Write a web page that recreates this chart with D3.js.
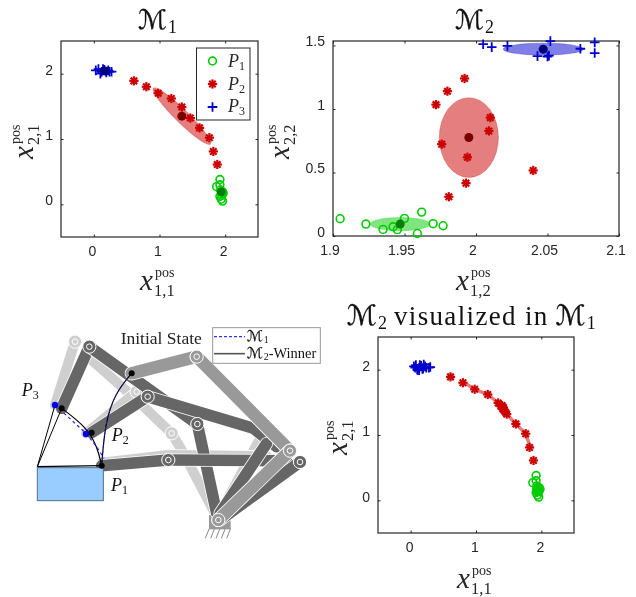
<!DOCTYPE html>
<html><head><meta charset="utf-8">
<script src="https://cdn.jsdelivr.net/npm/d3@7"></script>
<style>html,body{margin:0;padding:0;background:#fff}svg{display:block;filter:blur(.35px)}</style>
</head><body><svg id="c" width="636" height="597"></svg>
<script>
// ---- data: model M1, x1,1 vs x2,1
const m1P1x=[1.92,1.87,1.92,1.96,1.97,1.92,1.94,1.96,1.93,1.95];
const m1P1y=[0.38,0.27,0.30,0.19,0.17,0.12,0.08,0.05,0.22,0.14];
const m1P2x=[0.61,0.80,0.98,1.18,1.34,1.47,1.61,1.76,1.82,1.88];
const m1P2y=[1.89,1.80,1.70,1.62,1.49,1.32,1.17,1.02,0.81,0.61];
const m1P3x=[0.03,0.07,0.10,0.12,0.16,0.19,0.22,0.24,0.27,0.14];
const m1P3y=[2.05,2.07,2.00,2.03,2.06,2.02,2.05,2.03,2.03,2.07];
const m1Mean={P1:[1.94,0.19],P2:[1.34,1.35],P3:[0.17,2.04]};
// ---- data: model M2, x1,2 vs x2,2
const m2P1x=[1.905,1.923,1.935,1.942,1.945,1.950,1.959,1.962,1.970,1.977];
const m2P1y=[0.136,0.094,0.052,0.073,0.050,0.139,0.020,0.188,0.097,0.081];
const m2P2x=[1.992,1.980,1.972,2.010,2.009,1.976,1.994,1.993,1.981,2.040];
const m2P2y=[1.240,1.140,1.034,0.932,0.827,0.723,0.620,0.416,0.309,0.516];
const m2P3x=[2.005,2.011,2.022,2.043,2.052,2.050,2.051,2.073,2.083,2.083];
const m2P3y=[1.510,1.487,1.497,1.416,1.534,1.413,1.420,1.474,1.524,1.440];
const m2Mean={P1:[1.947,0.094],P2:[1.995,0.775],P3:[2.047,1.471]};
const m2Ell={P1:[0.021,0.052],P2:[0.0207,0.314],P3:[0.028,0.047]};
// ---- data: M2 samples visualized in M1
const m3P1x=[1.92,1.87,1.92,1.97,1.96,1.92,1.94,1.96,1.93,1.95,1.98,1.94,1.96,1.93];
const m3P1y=[0.38,0.27,0.30,0.19,0.16,0.12,0.08,0.05,0.22,0.14,0.17,0.19,0.13,0.17];
const m3P2x=[0.61,0.80,0.98,1.18,1.34,1.47,1.61,1.76,1.82,1.88,1.38,1.41,1.43,1.45,1.42,1.40];
const m3P2y=[1.89,1.80,1.70,1.62,1.49,1.32,1.17,1.02,0.81,0.61,1.44,1.40,1.38,1.35,1.42,1.45];
const m3P3x=[0.05,0.08,0.11,0.13,0.16,0.19,0.22,0.24,0.28,0.14,0.10,0.18,0.30,0.07,0.20,0.13];
const m3P3y=[2.05,2.07,2.00,2.03,2.06,2.02,2.05,2.03,2.03,2.07,2.00,2.01,2.04,2.03,2.08,1.99];
const m3BandX=[0.85,0.98,1.18,1.34,1.47,1.61,1.76,1.82];
const m3BandY=[1.78,1.70,1.62,1.49,1.32,1.17,1.02,0.85];
const m3Blob=[1.95,0.17];
const ticks1=[0,1,2];
const ticks2x=[1.9,1.95,2,2.05,2.1];
const ticks2y=[0,0.5,1,1.5];
const legendNames=["1","2","3"];
// ---- mechanism diagram geometry
const lightLinks=[[[225,95],[165,285]],[[275,150],[410,270],[515,370],[548,425],[645,610]],[[258,370],[410,245]],[[775,395],[660,610]],[[305,458],[505,435],[800,438]]];
const darkLinks=[[[268,110],[185,295]],[[268,110],[592,342]],[[592,342],[650,610]],[[275,368],[443,260]],[[443,260],[760,355],[830,410]],[[305,467],[505,450]],[[505,450],[860,452]],[[800,400],[660,610]],[[900,456],[660,630]]];
const midLinks=[[[395,190],[590,140]],[[590,140],[870,422]],[[870,422],[655,630]]];
const lightPins=[[225,95],[410,245],[515,370]];
const darkPins=[[268,110],[443,260],[592,342],[505,450],[900,456]];
const midPins=[[590,140],[870,422],[655,630]];
const curveA=[[305,467],[292,410],[258,350],[185,295]];
const curveB=[[305,467],[315,340],[345,250],[395,190]];
const dashA=[[165,285],[258,370],[290,410],[312,445]];
const anchors=[[112,470],[305,467],[165,285],[185,295]];
const blackDots=[[305,467],[275,368],[185,295],[395,190]];
const blueDots=[[165,285],[258,372]];
const hatchX=[628,644,660,676,692];

const GREEN="#00cc00",RED="#cc0000",BLUE="#0000cc",AX="#262626";
const SERIF="'Liberation Serif',serif",SANS="'Liberation Sans',sans-serif",MATH="'DejaVu Sans',serif";
const svg=d3.select("#c");

function star(g,x,y,c,s=4.6){ [0,45,90,135].forEach(a=>{
  g.append("line").attr("x1",-s).attr("x2",s).attr("y1",0).attr("y2",0)
   .attr("transform",`translate(${x},${y}) rotate(${a})`).attr("stroke",c).attr("stroke-width",2.2);});}
function plus(g,x,y,c,s=4.8){
  g.append("path").attr("d",`M${x-s},${y}H${x+s}M${x},${y-s}V${y+s}`).attr("stroke",c).attr("stroke-width",1.8).attr("fill","none");}
function ring(g,x,y,c,r=3.9){
  g.append("circle").attr("cx",x).attr("cy",y).attr("r",r).attr("fill","none").attr("stroke",c).attr("stroke-width",1.6);}

function varLabel(parent,x,y,sub,rot){
  const g=parent.append("g").attr("transform",`translate(${x},${y}) rotate(${rot||0})`);
  g.append("text").attr("x",-20).attr("y",0).attr("font-family",SERIF).attr("font-style","italic").attr("font-size",29).attr("fill",AX).text("x");
  g.append("text").attr("x",-5).attr("y",-13).attr("font-family",SERIF).attr("font-size",14).attr("fill",AX).text("pos");
  g.append("text").attr("x",-6).attr("y",6).attr("font-family",SERIF).attr("font-size",16.5).attr("fill",AX).text(sub);
}
function scr(parent,x,y,size,n){
  const t=parent.append("text").attr("x",x).attr("y",y).attr("fill","#111");
  t.append("tspan").attr("font-family",MATH).attr("font-style","italic").attr("font-size",size).attr("stroke","#111").attr("stroke-width",size/80).text("ℳ");
  t.append("tspan").attr("font-family",SERIF).attr("font-size",size*0.66).attr("dy",size*0.16).attr("dx",1).text(n);
  return t;
}

function panel(o){
  const x=d3.scaleLinear().domain(o.xd).range([o.l,o.r]);
  const y=d3.scaleLinear().domain(o.yd).range([o.b,o.t]);
  const g=svg.append("g");
  const fmt=d=>String(d);
  const style=a=>{a.selectAll("text").attr("font-family",SANS).attr("font-size",14).attr("fill",AX);
    a.select(".domain").remove(); a.selectAll("line").attr("stroke",AX).attr("stroke-width",1);};
  g.append("g").attr("transform",`translate(0,${o.b})`).call(d3.axisBottom(x).tickValues(o.xt).tickFormat(fmt).tickSizeInner(-2.5).tickSizeOuter(0).tickPadding(9)).call(style)
    .selectAll("text").attr("dx",o.ldx);
  g.append("g").attr("transform",`translate(0,${o.t})`).call(d3.axisTop(x).tickValues(o.xt).tickFormat("").tickSizeInner(-2.5).tickSizeOuter(0)).call(style);
  g.append("g").attr("transform",`translate(${o.l},0)`).call(d3.axisLeft(y).tickValues(o.yt).tickFormat(fmt).tickSizeInner(-2.5).tickSizeOuter(0).tickPadding(8)).call(style)
    .selectAll("text").attr("transform",`translate(0,${o.ldy})`);
  g.append("g").attr("transform",`translate(${o.r},0)`).call(d3.axisRight(y).tickValues(o.yt).tickFormat("").tickSizeInner(-2.5).tickSizeOuter(0)).call(style);
  g.append("rect").attr("x",o.l).attr("y",o.t).attr("width",o.r-o.l).attr("height",o.b-o.t).attr("fill","none").attr("stroke",AX).attr("stroke-width",1.2);
  return {x,y,g};
}
const ellipse=(g,cx,cy,rx,ry,c,a)=>g.append("ellipse").attr("cx",cx).attr("cy",cy).attr("rx",rx).attr("ry",ry)
  .attr("transform",a?`rotate(${a} ${cx} ${cy})`:null).attr("fill",c).attr("fill-opacity",.5).attr("stroke",c).attr("stroke-opacity",.25);
const dot=(g,p,P,c)=>g.append("circle").attr("cx",P.x(p[0])).attr("cy",P.y(p[1])).attr("r",4.5).attr("fill",c);

// ---- Panel M1
const A=panel({l:61,r:258,t:41,b:237,xd:[-.5,2.5],yd:[-.5,2.5],xt:ticks1,yt:ticks1,ldx:-2,ldy:-4});
ellipse(A.g,A.x(m1Mean.P2[0]),A.y(m1Mean.P2[1]),A.x(.61)-A.x(0),6.5,RED,44.5);
m1P1x.forEach((v,i)=>ring(A.g,A.x(v),A.y(m1P1y[i]),GREEN));
m1P2x.forEach((v,i)=>star(A.g,A.x(v),A.y(m1P2y[i]),RED));
m1P3x.forEach((v,i)=>plus(A.g,A.x(v),A.y(m1P3y[i]),BLUE));
dot(A.g,m1Mean.P1,A,"#008000");dot(A.g,m1Mean.P2,A,"#7a0000");dot(A.g,m1Mean.P3,A,"#00007a");
scr(svg,138,29,27,"1");
varLabel(svg,160,290,"1,1");
varLabel(svg,33,139,"2,1",-90);
// legend
const lg=A.g.append("g");
lg.append("rect").attr("x",196.5).attr("y",48).attr("width",53.5).attr("height",72).attr("fill","#fff").attr("stroke",AX).attr("stroke-width",1);
ring(lg,212.5,61,GREEN);star(lg,212.5,84,RED);plus(lg,212.5,107,BLUE);
legendNames.forEach((n,i)=>{const t=lg.append("text").attr("x",228).attr("y",67+i*22.7).attr("fill",AX);
  t.append("tspan").attr("font-family",SERIF).attr("font-style","italic").attr("font-size",18).text("P");
  t.append("tspan").attr("font-family",SERIF).attr("font-size",12).attr("dy",3).text(n);});

// ---- Panel M2
const B=panel({l:333,r:619,t:41,b:236,xd:[1.9,2.1],yd:[0,1.535],xt:ticks2x,yt:ticks2y,ldx:-3.5,ldy:-4});
[["P1",GREEN],["P2",RED],["P3",BLUE]].forEach(([k,c])=>{
  ellipse(B.g,B.x(m2Mean[k][0]),B.y(m2Mean[k][1]),B.x(m2Ell[k][0])-B.x(0),B.y(0)-B.y(m2Ell[k][1]),c);});
m2P1x.forEach((v,i)=>ring(B.g,B.x(v),B.y(m2P1y[i]),GREEN));
m2P2x.forEach((v,i)=>star(B.g,B.x(v),B.y(m2P2y[i]),RED));
m2P3x.forEach((v,i)=>plus(B.g,B.x(v),B.y(m2P3y[i]),BLUE));
dot(B.g,m2Mean.P1,B,"#008000");dot(B.g,m2Mean.P2,B,"#7a0000");dot(B.g,m2Mean.P3,B,"#00007a");
scr(svg,455,29,27,"2");
varLabel(svg,476,290,"1,2");
varLabel(svg,289,139,"2,2",-90);

// ---- Panel M2 in M1
const C=panel({l:378,r:574,t:337,b:533,xd:[-.5,2.5],yd:[-.5,2.5],xt:ticks1,yt:ticks1,ldx:-1.5,ldy:-3.5});
C.g.append("path").attr("d",d3.line().x((d,i)=>C.x(d)).y((d,i)=>C.y(m3BandY[i]))(m3BandX)).attr("fill","none").attr("stroke",RED).attr("stroke-opacity",.5).attr("stroke-width",3.5);
m3P1x.forEach((v,i)=>ring(C.g,C.x(v),C.y(m3P1y[i]),GREEN));
m3P2x.forEach((v,i)=>star(C.g,C.x(v),C.y(m3P2y[i]),RED));
m3P3x.forEach((v,i)=>plus(C.g,C.x(v),C.y(m3P3y[i]),BLUE));
C.g.append("ellipse").attr("cx",C.x(m3Blob[0])).attr("cy",C.y(m3Blob[1])).attr("rx",5).attr("ry",7).attr("fill",GREEN);
const T=svg.append("text").attr("x",347).attr("y",325).attr("fill","#111");
const tScr=()=>T.append("tspan").attr("font-family",MATH).attr("font-style","italic").attr("font-size",28).attr("stroke","#111").attr("stroke-width",.35).text("ℳ");
tScr();
T.append("tspan").attr("font-family",SERIF).attr("font-size",18).attr("dy",4).attr("dx",1).text("2");
T.append("tspan").attr("font-family",SERIF).attr("font-size",27).attr("dy",-4).attr("dx",7).attr("letter-spacing",1.35).text("visualized in");
tScr().attr("dx",7);
T.append("tspan").attr("font-family",SERIF).attr("font-size",18).attr("dy",4).attr("dx",1).text("1");
varLabel(svg,477,588,"1,1");
varLabel(svg,347,435,"2,1",-90);

// ---- Mechanism diagram
const mx=d3.scaleLinear().domain([0,990]).range([0,330]);
const my=d3.scaleLinear().domain([0,720]).range([310,550]);
const line=d3.line().x(d=>mx(d[0])).y(d=>my(d[1]));
const curve=d3.line().x(d=>mx(d[0])).y(d=>my(d[1])).curve(d3.curveBasis);
const M=svg.append("g");
function links(arr,c,w){arr.forEach(p=>{
  M.append("path").attr("d",line(p)).attr("fill","none").attr("stroke","#fff").attr("stroke-width",w+1.6).attr("stroke-linecap","round").attr("stroke-linejoin","round");
  M.append("path").attr("d",line(p)).attr("fill","none").attr("stroke",c).attr("stroke-width",w).attr("stroke-linecap","round").attr("stroke-linejoin","round");});}
function pins(arr,c){arr.forEach(p=>{
  M.append("circle").attr("cx",mx(p[0])).attr("cy",my(p[1])).attr("r",6.6).attr("fill",c).attr("stroke","#fff").attr("stroke-width",1);
  M.append("circle").attr("cx",mx(p[0])).attr("cy",my(p[1])).attr("r",2.8).attr("fill","none").attr("stroke","#fff").attr("stroke-width",1);});}
// ground hatch
hatchX.forEach(h=>M.append("line").attr("x1",mx(h)).attr("y1",my(655)).attr("x2",mx(h-12)).attr("y2",my(685)).attr("stroke","#888").attr("stroke-width",1));
links(lightLinks,"#cfcfcf",10);pins(lightPins,"#cfcfcf");
M.append("rect").attr("x",mx(627)).attr("y",my(615)).attr("width",mx(692)-mx(627)).attr("height",my(658)-my(615)).attr("fill","#999");
links(darkLinks,"#666",11.5);pins(darkPins,"#666");
links(midLinks,"#999",12.5);pins(midPins,"#999");
// payload block
M.append("rect").attr("x",mx(112)).attr("y",my(473)).attr("width",mx(310)-mx(112)).attr("height",my(572)-my(473)).attr("fill","#99ccff").attr("stroke","#4d7090").attr("stroke-width",1);
M.append("path").attr("d",line([anchors[0],anchors[1]])).attr("stroke","#000").attr("stroke-width",1.3).attr("fill","none");
M.append("path").attr("d",line([anchors[0],anchors[2]])).attr("stroke","#000").attr("stroke-width",1).attr("fill","none");
M.append("path").attr("d",line([anchors[0],anchors[3]])).attr("stroke","#000").attr("stroke-width",1).attr("fill","none");
M.append("path").attr("d",curve(curveA)).attr("stroke","#000").attr("stroke-width",1.2).attr("fill","none");
M.append("path").attr("d",curve(curveB)).attr("stroke","#000").attr("stroke-width",1.2).attr("fill","none");
M.append("path").attr("d",line(dashA)).attr("stroke","#2222ff").attr("stroke-width",1.2).attr("stroke-dasharray","3,3").attr("fill","none");
M.append("path").attr("d",curve(curveB)).attr("stroke","#2222ff").attr("stroke-width",.8).attr("stroke-dasharray","3,3").attr("fill","none");
blueDots.forEach(p=>M.append("circle").attr("cx",mx(p[0])).attr("cy",my(p[1])).attr("r",3.2).attr("fill","#0000f0"));
blackDots.forEach(p=>M.append("circle").attr("cx",mx(p[0])).attr("cy",my(p[1])).attr("r",3).attr("fill","#000"));
[["3",65,258],["2",335,392],["1",333,543]].forEach(([n,a,b])=>{
  const t=M.append("text").attr("x",mx(a)).attr("y",my(b)).attr("fill","#111");
  t.append("tspan").attr("font-family",SERIF).attr("font-style","italic").attr("font-size",18).text("P");
  t.append("tspan").attr("font-family",SERIF).attr("font-size",12).attr("dy",3).text(n);});
M.append("text").attr("x",mx(362)).attr("y",my(102)).attr("font-family",SERIF).attr("font-size",17.5).attr("fill","#222").text("Initial State");
M.append("rect").attr("x",mx(638)).attr("y",my(53)).attr("width",mx(961)-mx(638)).attr("height",my(160)-my(53)).attr("fill","#fff").attr("stroke","#999").attr("stroke-width",1);
M.append("path").attr("d",line([[642,80],[735,80]])).attr("stroke","#3333ff").attr("stroke-width",1.2).attr("stroke-dasharray","3,2").attr("fill","none");
M.append("path").attr("d",line([[642,131],[735,131]])).attr("stroke","#555").attr("stroke-width",1.6).attr("fill","none");
scr(M,mx(740),my(93),15,"1");
const l2=scr(M,mx(740),my(143),15,"2");
l2.append("tspan").attr("font-family",SERIF).attr("font-size",14.5).attr("dy",-2.4).text("-Winner");
</script></body></html>
